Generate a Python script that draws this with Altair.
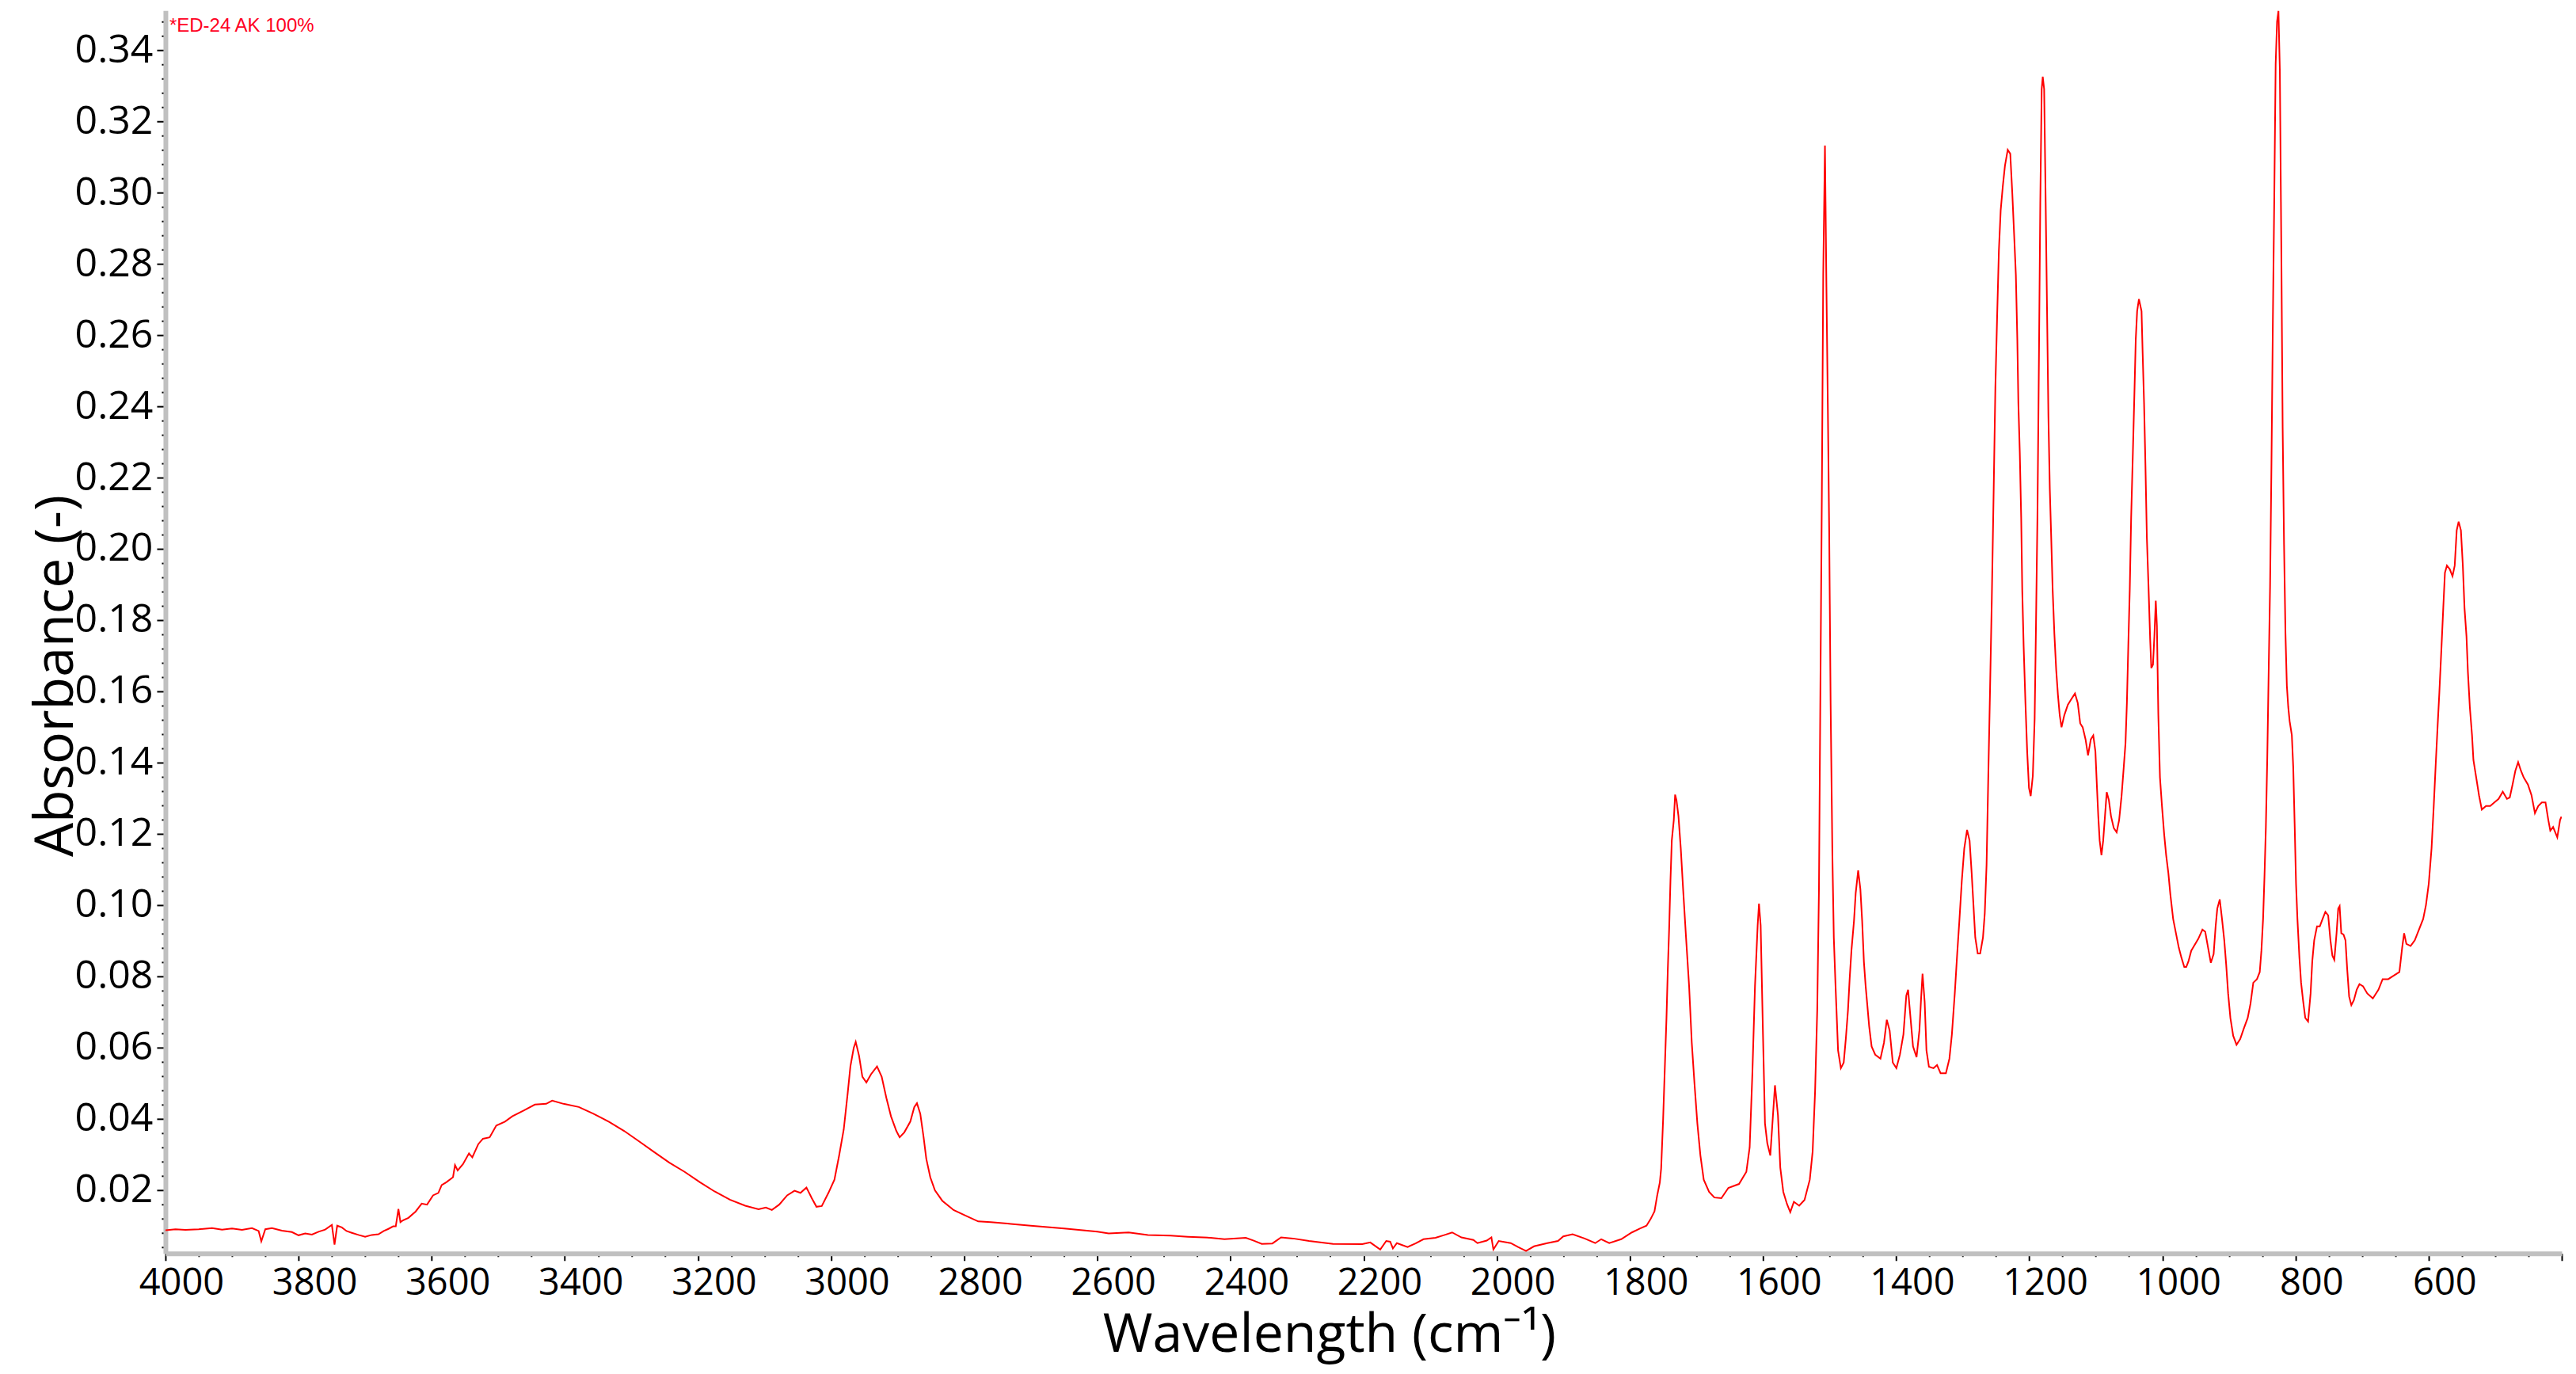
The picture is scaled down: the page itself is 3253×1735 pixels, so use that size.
import altair as alt
import pandas as pd

# Spectrum (wavenumber in cm-1, absorbance)
wavenumber = [
    4000, 3985, 3970, 3950, 3930, 3915, 3900, 3885, 3870, 3860, 3856, 3850, 3840, 3825, 3810,
    3800, 3790, 3780, 3770, 3760, 3750, 3746, 3742, 3735, 3728, 3720, 3710, 3700, 3690, 3680,
    3672, 3665, 3658, 3654, 3650, 3647, 3644, 3635, 3624, 3615, 3607, 3598, 3590, 3585, 3578,
    3568, 3565, 3561, 3553, 3544, 3539, 3530, 3523, 3513, 3503, 3490, 3479, 3462, 3445, 3428,
    3419, 3402, 3379, 3357, 3334, 3311, 3288, 3266, 3243, 3220, 3197, 3175, 3152, 3129, 3109,
    3098, 3089, 3078, 3066, 3055, 3046, 3037, 3029, 3022, 3014, 3004, 2995, 2988, 2981, 2975,
    2971, 2966, 2963, 2958, 2953, 2947, 2940, 2931, 2924, 2917, 2910, 2902, 2897, 2890, 2881,
    2875, 2871, 2866, 2861, 2857, 2851, 2844, 2833, 2816, 2799, 2779, 2760, 2730, 2700, 2650,
    2600, 2583, 2553, 2524, 2490, 2464, 2430, 2409, 2377, 2365, 2353, 2337, 2324, 2306, 2282,
    2246, 2202, 2190, 2175, 2166, 2160, 2156, 2150, 2134, 2122, 2110, 2092, 2080, 2067, 2053,
    2035, 2029, 2015, 2008, 2005, 1997, 1979, 1968, 1956, 1944, 1924, 1908, 1900, 1886, 1868,
    1852, 1843, 1831, 1813, 1797, 1785, 1775, 1769, 1763, 1759, 1755, 1753, 1750, 1747, 1745,
    1743, 1741, 1739, 1737, 1734, 1732, 1730, 1727, 1723.5, 1720, 1715.6, 1711, 1707, 1703, 1698.6,
    1694, 1689, 1681, 1673, 1662.5, 1652, 1636, 1625, 1620, 1616, 1612, 1608, 1606, 1603.5, 1600,
    1597, 1593.5, 1589, 1585, 1582, 1577.5, 1574, 1569.5, 1564, 1559, 1553.6, 1545.6, 1537.6, 1529.7, 1525.4,
    1521.7, 1518.5, 1515.9, 1513.8, 1511.6, 1509.5, 1506.9, 1504.7, 1502.6, 1500.5, 1498.4, 1495.7, 1493.6, 1491, 1487.2,
    1483, 1478.7, 1475.5, 1472.3, 1469.7, 1467, 1463.3, 1460.7, 1457, 1453.7, 1451, 1448.4, 1445.8, 1443.1, 1440.5,
    1436.8, 1431.4, 1423.5, 1418.2, 1414, 1409.7, 1405, 1399.6, 1394.3, 1389, 1384.7, 1382, 1378.3, 1374.6, 1369.3,
    1365, 1362.4, 1360.3, 1357.1, 1354.4, 1350.7, 1343.8, 1338.5, 1333.2, 1325.2, 1319.9, 1316.2, 1311.9, 1308.2, 1305,
    1301.3, 1297.6, 1293.4, 1289.6, 1286.5, 1283.8, 1281.1, 1277.4, 1273.7, 1269.5, 1266.8, 1264.1, 1261.5, 1258.8, 1256.2,
    1253.5, 1250.9, 1248.2, 1245.6, 1242.9, 1239.7, 1236.5, 1232.3, 1228.5, 1225.4, 1222.7, 1220.1, 1217.9, 1216.3, 1214.2,
    1212.1, 1210.5, 1208.4, 1205.7, 1203.1, 1200.4, 1197.8, 1194.6, 1191.9, 1189.8, 1187.7, 1185.5, 1183.4, 1181.3, 1179.7,
    1177.6, 1175.4, 1173.3, 1171.2, 1169.1, 1167, 1164.8, 1162.2, 1159.5, 1156.9, 1154.2, 1151.5, 1147.3, 1142, 1136.7,
    1131.3, 1127.1, 1123.4, 1119.7, 1115.4, 1111.7, 1107.5, 1103.8, 1100.6, 1098.5, 1096.3, 1094.2, 1091.5, 1088.9, 1086.2,
    1083.6, 1080.4, 1077.2, 1073, 1068.7, 1065, 1061.3, 1058.1, 1055.4, 1053.3, 1051.2, 1049, 1046.9, 1044.3, 1042.1,
    1040, 1037.9, 1035.2, 1031.3, 1029.6, 1027.5, 1025.4, 1023.3, 1020.8, 1018.3, 1016.6, 1014.1, 1012, 1009.9, 1008.2,
    1006.1, 1003.6, 1000.6, 997.3, 994.3, 991, 988, 983.8, 979.6, 975.4, 971.3, 967.1, 964.1, 960.8, 956.6,
    952.4, 946.1, 939.8, 935.6, 931.4, 927.2, 923, 920, 917.5, 913.8, 910.4, 907, 904.1, 901.2, 897.8,
    893.6, 888.6, 883.1, 877.7, 871.8, 867.6, 863.4, 857.9, 853.7, 851.2, 848.7, 846.6, 844.5, 842.4, 840.3,
    838.2, 836.1, 834, 831.9, 829.8, 827.7, 825.6, 823.5, 821.4, 819.3, 817.2, 815.1, 813, 810.9, 808.8,
    805.5, 803.4, 801.3, 799.2, 797.1, 794.1, 791.6, 788.7, 785.3, 781.1, 777.3, 774.8, 771.9, 767.7, 763.5,
    759.3, 755.1, 750.9, 747.5, 744.6, 741.7, 738.3, 735.8, 733.7, 731.2, 727.8, 724.9, 722.4, 719.4, 716.1,
    712.3, 708.1, 703.9, 698.5, 692.2, 683.8, 675.4, 669.1, 660.7, 652.3, 643.9, 639.7, 636.8, 633.4, 627.1,
    620.8, 614.5, 608.2, 604, 599.8, 595.6, 592.3, 589.3, 586.4, 583.9, 580.9, 578, 575.5, 572.5, 568.3,
    564.1, 560.8, 557.8, 554.9, 551.5, 548.6, 546.1, 543.1, 541, 538.1, 534.8, 532.7, 528.5, 524.3, 520.1,
    513.8, 507.5, 501.2, 494.9, 488.6, 482.3, 478.1, 473.9, 469.7, 465.5, 461.3, 457.1, 450.8, 445.4, 440.3,
    435.3, 429.9, 424.4, 420.2, 417.2, 413, 406.7, 402.5, 400.4,
]

absorbance = [
    0.0087, 0.0090, 0.0088, 0.0090, 0.0093, 0.0089, 0.0092, 0.0088, 0.0093, 0.0085, 0.0056, 0.0090, 0.0093, 0.0086, 0.0082,
    0.0073, 0.0078, 0.0075, 0.0083, 0.0089, 0.0102, 0.0047, 0.0100, 0.0095, 0.0085, 0.0080, 0.0074, 0.0069, 0.0074, 0.0076,
    0.0085, 0.0091, 0.0098, 0.0098, 0.0147, 0.0110, 0.0114, 0.0122, 0.0140, 0.0162, 0.0159, 0.0185, 0.0192, 0.0214, 0.0222,
    0.0236, 0.0270, 0.0255, 0.0273, 0.0303, 0.0292, 0.0329, 0.0344, 0.0348, 0.0381, 0.0392, 0.0407, 0.0423, 0.0440, 0.0442,
    0.0451, 0.0442, 0.0433, 0.0414, 0.0392, 0.0366, 0.0336, 0.0307, 0.0277, 0.0251, 0.0222, 0.0196, 0.0173, 0.0156, 0.0146,
    0.0151, 0.0144, 0.0159, 0.0185, 0.0198, 0.0192, 0.0207, 0.0177, 0.0153, 0.0155, 0.0192, 0.0229, 0.0296, 0.0370, 0.0473,
    0.0547, 0.0599, 0.0616, 0.0577, 0.0518, 0.0502, 0.0525, 0.0547, 0.0518, 0.0459, 0.0407, 0.0366, 0.0348, 0.0362, 0.0392,
    0.0433, 0.0444, 0.0414, 0.0348, 0.0288, 0.0236, 0.0199, 0.0170, 0.0144, 0.0129, 0.0112, 0.0110, 0.0105, 0.0100, 0.0092,
    0.0083, 0.0078, 0.0081, 0.0074, 0.0072, 0.0069, 0.0066, 0.0062, 0.0066, 0.0058, 0.0049, 0.0050, 0.0067, 0.0064, 0.0057,
    0.0049, 0.0048, 0.0053, 0.0033, 0.0057, 0.0055, 0.0036, 0.0051, 0.0040, 0.0050, 0.0062, 0.0066, 0.0073, 0.0081, 0.0067,
    0.0060, 0.0051, 0.0058, 0.0067, 0.0033, 0.0057, 0.0051, 0.0040, 0.0029, 0.0042, 0.0051, 0.0057, 0.0070, 0.0076, 0.0064,
    0.0051, 0.0062, 0.0051, 0.0062, 0.0081, 0.0092, 0.0100, 0.0118, 0.0140, 0.0184, 0.0221, 0.0260, 0.0400, 0.0570, 0.0682,
    0.0818, 0.0932, 0.1068, 0.1181, 0.1238, 0.1310, 0.1295, 0.1250, 0.1159, 0.1045, 0.0909, 0.0773, 0.0614, 0.0501, 0.0387,
    0.0297, 0.0229, 0.0195, 0.0179, 0.0177, 0.0206, 0.0217, 0.0251, 0.0320, 0.0524, 0.0773, 0.0943, 0.1004, 0.0943, 0.0637,
    0.0387, 0.0331, 0.0297, 0.0410, 0.0494, 0.0410, 0.0263, 0.0195, 0.0161, 0.0138, 0.0167, 0.0156, 0.0172, 0.0229, 0.0308,
    0.0478, 0.0705, 0.1045, 0.1590, 0.2145, 0.2769, 0.3132, 0.2735, 0.2406, 0.2043, 0.1567, 0.1136, 0.0909, 0.0773, 0.0592,
    0.0542, 0.0558, 0.0626, 0.0705, 0.0796, 0.0875, 0.0955, 0.1034, 0.1097, 0.1045, 0.0955, 0.0841, 0.0773, 0.0716, 0.0660,
    0.0603, 0.0580, 0.0569, 0.0614, 0.0678, 0.0648, 0.0558, 0.0542, 0.0580, 0.0637, 0.0746, 0.0762, 0.0682, 0.0603, 0.0573,
    0.0648, 0.0740, 0.0807, 0.0728, 0.0592, 0.0546, 0.0542, 0.0551, 0.0528, 0.0528, 0.0569, 0.0637, 0.0751, 0.0864, 0.0955,
    0.1068, 0.1159, 0.1211, 0.1181, 0.1090, 0.1000, 0.0909, 0.0864, 0.0864, 0.0909, 0.0977, 0.1113, 0.1363, 0.1612, 0.1862,
    0.2157, 0.2451, 0.2655, 0.2837, 0.2950, 0.3018, 0.3075, 0.3120, 0.3109, 0.2996, 0.2882, 0.2769, 0.2587, 0.2406, 0.2270,
    0.2088, 0.1884, 0.1726, 0.1567, 0.1431, 0.1329, 0.1306, 0.1363, 0.1522, 0.1794, 0.2088, 0.2520, 0.2973, 0.3290, 0.3325,
    0.3290, 0.2984, 0.2678, 0.2372, 0.2168, 0.2032, 0.1884, 0.1760, 0.1660, 0.1590, 0.1533, 0.1499, 0.1533, 0.1562, 0.1578,
    0.1594, 0.1567, 0.1510, 0.1499, 0.1465, 0.1420, 0.1465, 0.1476, 0.1431, 0.1340, 0.1250, 0.1181, 0.1140, 0.1181, 0.1250,
    0.1317, 0.1295, 0.1250, 0.1216, 0.1204, 0.1238, 0.1306, 0.1385, 0.1454, 0.1567, 0.1726, 0.1884, 0.2088, 0.2270, 0.2429,
    0.2587, 0.2667, 0.2701, 0.2667, 0.2548, 0.2409, 0.2231, 0.2032, 0.1893, 0.1744, 0.1665, 0.1675, 0.1754, 0.1854, 0.1784,
    0.1536, 0.1358, 0.1278, 0.1199, 0.1140, 0.1090, 0.1030, 0.0961, 0.0921, 0.0881, 0.0852, 0.0826, 0.0826, 0.0842, 0.0872,
    0.0885, 0.0905, 0.0931, 0.0925, 0.0881, 0.0838, 0.0862, 0.0940, 0.0990, 0.1016, 0.0961, 0.0901, 0.0832, 0.0752, 0.0683,
    0.0633, 0.0608, 0.0624, 0.0653, 0.0683, 0.0723, 0.0782, 0.0792, 0.0812, 0.0872, 0.0961, 0.1080, 0.1219, 0.1413, 0.1655,
    0.1893, 0.2240, 0.2637, 0.2984, 0.3361, 0.3480, 0.3510, 0.3342, 0.2865, 0.2340, 0.2012, 0.1764, 0.1616, 0.1556, 0.1516,
    0.1477, 0.1387, 0.1229, 0.1060, 0.0961, 0.0852, 0.0782, 0.0733, 0.0683, 0.0673, 0.0752, 0.0842, 0.0901, 0.0940, 0.0940,
    0.0961, 0.0981, 0.0971, 0.0901, 0.0858, 0.0846, 0.0921, 0.0990, 0.0997, 0.0921, 0.0917, 0.0901, 0.0822, 0.0743, 0.0719,
    0.0733, 0.0762, 0.0778, 0.0772, 0.0752, 0.0738, 0.0762, 0.0792, 0.0792, 0.0802, 0.0812, 0.0881, 0.0921, 0.0891, 0.0885,
    0.0901, 0.0931, 0.0961, 0.1000, 0.1060, 0.1159, 0.1278, 0.1397, 0.1506, 0.1596, 0.1715, 0.1834, 0.1933, 0.1953, 0.1943,
    0.1923, 0.1953, 0.2052, 0.2076, 0.2052, 0.1953, 0.1834, 0.1754, 0.1655, 0.1556, 0.1477, 0.1407, 0.1358, 0.1308, 0.1268,
    0.1278, 0.1278, 0.1288, 0.1298, 0.1318, 0.1298, 0.1302, 0.1338, 0.1377, 0.1401, 0.1377, 0.1358, 0.1338, 0.1308, 0.1258,
    0.1278, 0.1288, 0.1288, 0.1239, 0.1209, 0.1219, 0.1190, 0.1239, 0.1248,
]

series_label = "*ED-24 AK 100%"
x_title = "Wavelength (cm\u207b\u00b9)"
y_title = "Absorbance (-)"
x_ticks = list(range(4000, 399, -50))
y_ticks = [round(0.004 * i, 3) for i in range(1, 88)]

df = pd.DataFrame({"wn": wavenumber, "A": absorbance})
label_df = pd.DataFrame({"label": [series_label]})

AXIS_FONT = "Open Sans"

x_enc = alt.X(
    "wn:Q",
    scale=alt.Scale(domain=[400, 4000], reverse=True, nice=False, zero=False),
    axis=alt.Axis(
        title=x_title,
        values=x_ticks,
        format="d",
        labelExpr="(datum.value % 200 === 0 && datum.value > 400) ? datum.label : ''",
        labelOverlap=False,
        labelFlush=False,
        labelFont=AXIS_FONT,
        labelFontSize=47,
        labelColor="black",
        labelPadding=6,
        labelOffset=20,
        tickColor="black",
        tickWidth=2,
        tickSize={"condition": {"test": "datum.value % 200 === 0", "value": 9}, "value": 4},
        domainColor="#c0c0c0",
        domainWidth=6,
        grid=False,
        titleFont=AXIS_FONT,
        titleFontSize=68,
        titleFontWeight="normal",
        titleColor="black",
        titleX=1470,
        titleY=104,
        titleAlign="center",
        titleBaseline="middle",
    ),
)

y_enc = alt.Y(
    "A:Q",
    scale=alt.Scale(domain=[0.0022, 0.3511], nice=False, zero=False),
    axis=alt.Axis(
        title=y_title,
        values=y_ticks,
        format=".2f",
        labelExpr="(round(datum.value * 1000) % 20 === 0) ? datum.label : ''",
        labelOverlap=False,
        labelFlush=False,
        labelFont=AXIS_FONT,
        labelFontSize=50,
        labelColor="black",
        labelPadding=5,
        tickColor="black",
        tickWidth=2,
        tickSize={"condition": {"test": "round(datum.value * 1000) % 20 === 0", "value": 11}, "value": 5},
        domainColor="#c0c0c0",
        domainWidth=6,
        grid=False,
        titleFont=AXIS_FONT,
        titleFontSize=68,
        titleFontWeight="normal",
        titleColor="black",
        titleX=-137,
        titleY=840,
        titleAngle=270,
        titleAlign="center",
        titleBaseline="middle",
    ),
)

line = alt.Chart(df).mark_line(color="#ff0000", strokeWidth=2, clip=True).encode(
    x=x_enc, y=y_enc
)

label = alt.Chart(label_df).mark_text(
    align="left", baseline="middle", font="Liberation Sans", fontSize=24, color="#ff0022"
).encode(x=alt.value(5), y=alt.value(20), text="label:N")

chart = (
    alt.layer(line, label)
    .properties(
        width=3027,
        height=1570,
        autosize=alt.AutoSizeParams(type="none"),
        padding={"left": 201, "top": 5, "right": 10, "bottom": 149},
        background="white",
    )
    .configure_view(stroke=None)
)

chart.save("out.html", embed_options={"renderer": "svg", "actions": False})
